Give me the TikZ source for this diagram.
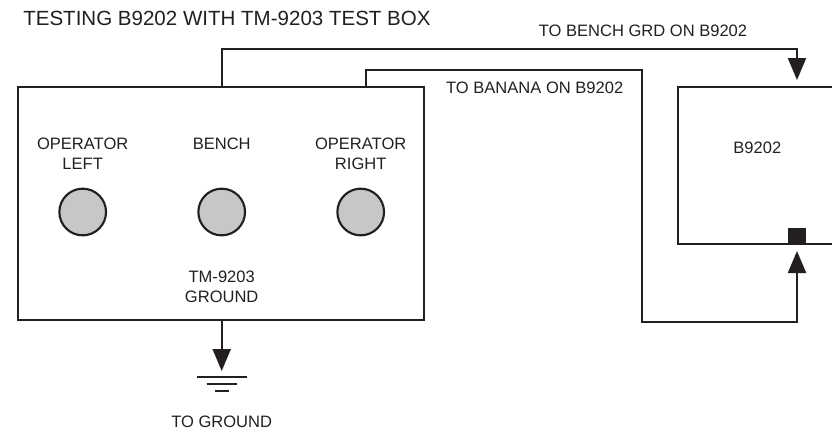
\documentclass[tikz,border=0pt]{standalone}
\usepackage{fontspec}
\setmainfont{Liberation Sans}
\usetikzlibrary{arrows.meta}
\definecolor{ink}{HTML}{231F20}
\definecolor{knob}{HTML}{C6C7C9}
\begin{document}
\begin{tikzpicture}[x=0.75pt,y=-0.75pt,
  wire/.style={draw=ink,line width=1.6pt},
  arr/.style={-{Triangle[length=16.5pt,width=13.5pt]}},
  lbl/.style={text=ink,font=\fontsize{12.4}{15}\selectfont,align=center,inner sep=0pt},
  jack/.style={circle,draw=ink,line width=1.6pt,fill=knob,minimum size=35pt,inner sep=0pt},
  panel/.style={draw=ink,line width=1.6pt,rectangle,inner sep=0pt}]
\useasboundingbox (0,0) rectangle (832,430);
% title
\node[lbl,anchor=base west,font=\fontsize{15.4}{18}\selectfont] (title) at (23,25) {TESTING B9202 WITH TM-9203 TEST BOX};
% test box
\node[panel,minimum width=304.5pt,minimum height=174.75pt] (tm) at (221.15,203.5) {};
\node[jack] (jl) at (82.7,212) {};
\node[jack] (jb) at (221.7,212) {};
\node[jack] (jr) at (360.7,212) {};
\node[lbl] (ll) at (82.7,154.2) {OPERATOR\\LEFT};
\node[lbl] (lb) at (221.7,144) {BENCH};
\node[lbl] (lr) at (360.7,154.2) {OPERATOR\\RIGHT};
\node[lbl] (lg) at (221.7,286.7) {TM-9203\\GROUND};
% B9202 box (extends past right edge)
\coordinate (rtl) at (678,87);
\coordinate (rbl) at (678,244);
\draw[wire] (833,87) -- (rtl) -- (rbl) -- (833,244);
\node[lbl] (bname) at (757.3,147.5) {B9202};
\node[fill=ink,minimum width=13.5pt,minimum height=12.75pt,inner sep=0pt,anchor=south] (banana) at (797,244.8) {};
% wire to bench grd
\coordinate (w1a) at (221.7,87);
\coordinate (w1t) at (797,80);
\draw[wire,arr] (w1a) -- (221.7,49) -- (797,49) -- (w1t);
\node[lbl] (t1) at (643,31) {TO BENCH GRD ON B9202};
% wire to banana
\coordinate (w2a) at (365.7,87);
\coordinate (w2t) at (797,251);
\draw[wire,arr] (w2a) -- (365.7,70) -- (642,70) -- (642,322) -- (797,322) -- (w2t);
\node[lbl] (t2) at (534.7,87.5) {TO BANANA ON B9202};
% ground
\coordinate (g0) at (221.7,320);
\coordinate (gt) at (221.7,371);
\draw[wire,arr] (g0) -- (gt);
\draw[wire] (196.7,376.7) -- (246.7,376.7);
\draw[wire] (206.7,384) -- (236.7,384);
\draw[wire] (215,390.7) -- (229,390.7);
\node[lbl] (tg) at (221.7,421.7) {TO GROUND};
\end{tikzpicture}
\end{document}
